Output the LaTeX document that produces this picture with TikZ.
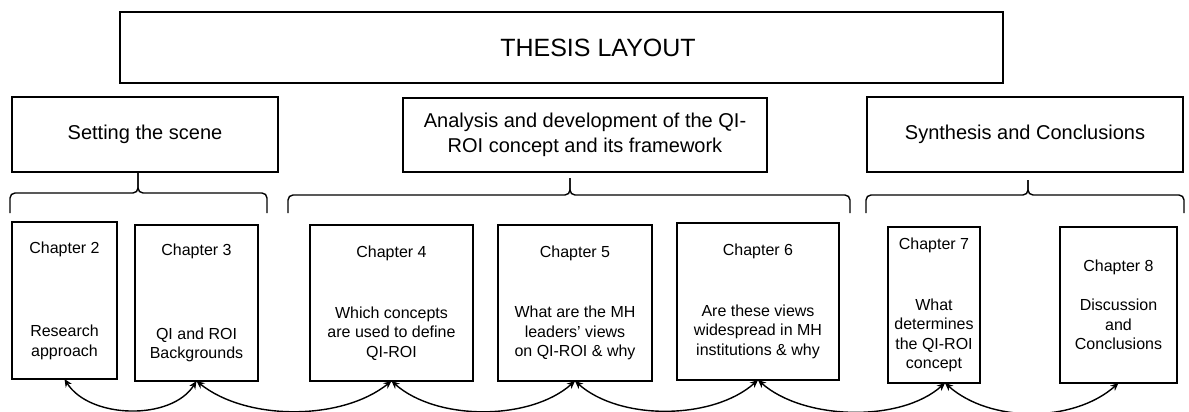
\documentclass[tikz,border=0pt]{standalone}
\usepackage{fontspec}
\setmainfont{Liberation Sans}
\usetikzlibrary{arrows.meta}
\begin{document}
\begin{tikzpicture}[x=1pt,y=-1pt,
  frame/.style={draw, line width=2.6pt, inner sep=0pt, outer sep=0pt},
  chapbox/.style={frame, align=center, font=\fontsize{16}{19.5}\selectfont},
  secbox/.style={frame, align=center, font=\fontsize{20}{25}\selectfont},
  bracket/.style={line width=1.4pt, rounded corners=5pt},
  link/.style={line width=1.4pt, {Stealth[length=8pt,width=7pt]}-{Stealth[length=8pt,width=7pt]}}
]
\useasboundingbox (0,0) rectangle (1189,412);

% title box
\node[frame, minimum width=883pt, minimum height=71pt] (title) at (561.5,47.5) {};
\node[font=\fontsize{25}{29}\selectfont] (titletext) at (598,48) {THESIS LAYOUT};

% part boxes
\node[secbox, minimum width=266pt, minimum height=75pt] (s1) at (145,134.5) {Setting the scene};
\node[secbox, minimum width=364pt, minimum height=74pt] (s2) at (585,135) {Analysis and development of the QI-\\ROI concept and its framework};
\node[secbox, minimum width=316pt, minimum height=75pt] (s3) at (1025,134.5) {Synthesis and Conclusions};

% braces grouping the chapters of each part
\draw[bracket] (10,213) -- (10,193) -- (138,193) -- (138,173);
\draw[bracket] (267,213) -- (267,193) -- (138,193) -- (138,173);
\draw[bracket] (288,213) -- (288,195) -- (570,195) -- (570,178);
\draw[bracket] (850,213) -- (850,195) -- (570,195) -- (570,178);
\draw[bracket] (866,213) -- (866,195) -- (1028,195) -- (1028,180);
\draw[bracket] (1184,213) -- (1184,195) -- (1028,195) -- (1028,180);

% chapter boxes
\node[chapbox, minimum width=105pt, minimum height=157pt] (ch2) at (64.5,300.5)
  {Chapter 2\\[64pt]Research\\approach};
\node[chapbox, minimum width=123pt, minimum height=156pt] (ch3) at (196.5,303)
  {Chapter 3\\[64pt]QI and ROI\\Backgrounds};
\node[chapbox, minimum width=163pt, minimum height=156pt] (ch4) at (391.5,303)
  {Chapter 4\\[41pt]Which concepts\\are used to define\\QI-ROI};
\node[chapbox, minimum width=154pt, minimum height=156pt] (ch5) at (575,303)
  {Chapter 5\\[41pt]What are the MH\\leaders’ views\\on QI-ROI \& why};
\node[chapbox, minimum width=162pt, minimum height=157pt] (ch6) at (758,301.5)
  {Chapter 6\\[41pt]Are these views\\widespread in MH\\institutions \& why};
\node[chapbox, minimum width=92pt, minimum height=156pt] (ch7) at (934,305)
  {Chapter 7\\[41pt]What\\determines\\the QI-ROI\\concept};
\node[chapbox, minimum width=117pt, minimum height=156pt] (ch8) at (1118.5,305)
  {Chapter 8\\[20pt]Discussion\\and\\Conclusions};

% links between consecutive chapters
\draw[link] (ch2.south) .. controls +(25,40) and +(-25,40) .. (ch3.south);
\draw[link] (ch3.south) .. controls +(50,40) and +(-50,40) .. (ch4.south);
\draw[link] (ch4.south) .. controls +(45,40) and +(-45,40) .. (ch5.south);
\draw[link] (ch5.south) .. controls +(45,40) and +(-45,40) .. (ch6.south);
\draw[link] (ch6.south) .. controls +(45,40) and +(-45,40) .. ([xshift=11pt]ch7.south);
\draw[link] ([xshift=11pt]ch7.south) .. controls +(45,40) and +(-45,40) .. (ch8.south);
\end{tikzpicture}
\end{document}
